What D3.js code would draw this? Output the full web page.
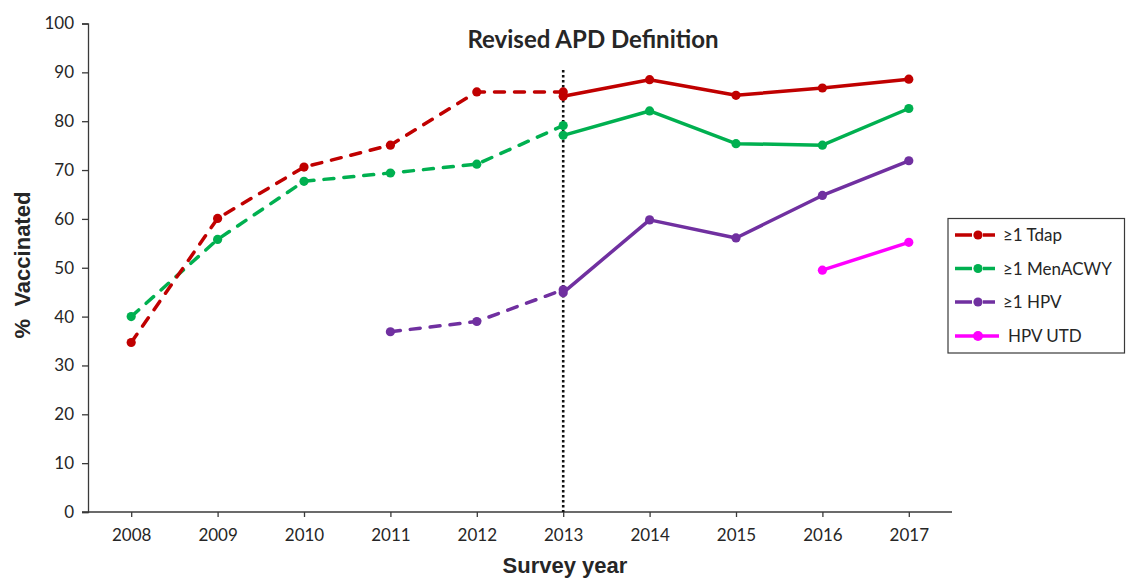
<!DOCTYPE html>
<html><head><meta charset="utf-8">
<script src="https://cdn.jsdelivr.net/npm/d3@7"></script>
<style>
html,body{margin:0;padding:0;background:#fff;}
svg{display:block;}
</style></head>
<body>
<svg id="chart" width="1126" height="578"></svg>
<script>
const years = [2008, 2009, 2010, 2011, 2012, 2013, 2014, 2015, 2016, 2017];
const yTicks = [0, 10, 20, 30, 40, 50, 60, 70, 80, 90, 100];

const tdapPreYears = [2008, 2009, 2010, 2011, 2012, 2013];
const tdapPre = [34.7, 60.1, 70.6, 75.1, 86.0, 86.0];
const tdapPostYears = [2013, 2014, 2015, 2016, 2017];
const tdapPost = [85.1, 88.5, 85.3, 86.8, 88.6];

const menPreYears = [2008, 2009, 2010, 2011, 2012, 2013];
const menPre = [40.0, 55.8, 67.7, 69.4, 71.2, 79.1];
const menPostYears = [2013, 2014, 2015, 2016, 2017];
const menPost = [77.1, 82.1, 75.4, 75.1, 82.6];

const hpvPreYears = [2011, 2012, 2013];
const hpvPre = [36.9, 39.0, 45.5];
const hpvPostYears = [2013, 2014, 2015, 2016, 2017];
const hpvPost = [44.9, 59.8, 56.1, 64.8, 71.9];

const utdYears = [2016, 2017];
const utd = [49.5, 55.2];

const legendLabels = ["≥1 Tdap", "≥1 MenACWY", "≥1 HPV", "HPV UTD"];
const colors = ["#C00000", "#00B050", "#7030A0", "#FF00FF"];
const revisedYear = 2013;

const svg = d3.select("#chart");
const plotL = 88, plotR = 952, plotT = 23.5, plotB = 512;

const x = d3.scalePoint().domain(years).range([plotL, plotR]).padding(0.5);
const y = d3.scaleLinear().domain([0, 100]).range([plotB, plotT]);

const axisColor = "#3a3a3a";
const tickFont = "Lato, 'Open Sans', sans-serif";

// Y axis
const yAxis = svg.append("g").attr("transform", `translate(${plotL},0)`)
  .call(d3.axisLeft(y).tickValues(yTicks).tickSize(6).tickPadding(8).tickFormat(d3.format("d")));
yAxis.select(".domain").attr("stroke", axisColor).attr("stroke-width", 1.3);
yAxis.selectAll(".tick line").attr("stroke", axisColor).attr("stroke-width", 1.3);
yAxis.selectAll(".tick text").attr("fill", "#262626").style("font-family", tickFont).style("font-size", "17px");

// X axis
const xAxis = svg.append("g").attr("transform", `translate(0,${plotB})`)
  .call(d3.axisBottom(x).tickSize(5).tickPadding(12).tickSizeOuter(0));
xAxis.select(".domain").attr("d", `M${plotL - 6},0H${plotR}`).attr("stroke", axisColor).attr("stroke-width", 1.3);
xAxis.selectAll(".tick line").attr("stroke", axisColor).attr("stroke-width", 1.3);
xAxis.selectAll(".tick text").attr("fill", "#262626").style("font-family", tickFont).style("font-size", "17px");

// Revised line
svg.append("line")
  .attr("x1", x(revisedYear)).attr("x2", x(revisedYear))
  .attr("y1", 70).attr("y2", plotB)
  .attr("stroke", "#111").attr("stroke-width", 2.6).attr("stroke-dasharray", "2.5,2.5");

svg.append("text").attr("x", 593).attr("y", 48).attr("text-anchor", "middle")
  .style("font-family", tickFont).style("font-weight", "bold").style("font-size", "24px")
  .attr("fill", "#262626").text("Revised APD Definition");

// Axis titles
svg.append("text").attr("x", 565).attr("y", 572.5).attr("text-anchor", "middle")
  .style("font-family", "'Liberation Sans', Arial, sans-serif").style("font-weight", "bold").style("font-size", "22px")
  .attr("fill", "#262626").text("Survey year");

svg.append("text").attr("transform", "translate(30,265) rotate(-90)").attr("text-anchor", "middle")
  .style("font-family", "'Liberation Sans', Arial, sans-serif").style("font-weight", "bold").style("font-size", "22px")
  .style("white-space", "pre").attr("xml:space", "preserve")
  .attr("fill", "#262626").text("%  Vaccinated");

// Series
const line = d3.line().x(d => x(d[0])).y(d => y(d[1]));
function series(yrs, vals, color, dashed) {
  const data = yrs.map((yr, i) => [yr, vals[i]]);
  const g = svg.append("g");
  g.append("path").datum(data).attr("d", line).attr("fill", "none")
    .attr("stroke", color).attr("stroke-width", 3.5)
    .attr("stroke-linecap", dashed ? "round" : "butt")
    .attr("stroke-linejoin", "round")
    .attr("stroke-dasharray", dashed ? "10,10" : null);
  g.selectAll("circle").data(data).join("circle")
    .attr("cx", d => x(d[0])).attr("cy", d => y(d[1])).attr("r", 4.6).attr("fill", color);
}
series(hpvPreYears, hpvPre, colors[2], true);
series(hpvPostYears, hpvPost, colors[2], false);
series(utdYears, utd, colors[3], false);
series(menPreYears, menPre, colors[1], true);
series(menPostYears, menPost, colors[1], false);
series(tdapPreYears, tdapPre, colors[0], true);
series(tdapPostYears, tdapPost, colors[0], false);

// Legend
const lg = svg.append("g");
lg.append("rect").attr("x", 948).attr("y", 218.5).attr("width", 176.5).attr("height", 134.5)
  .attr("fill", "#fff").attr("stroke", "#3a3a3a").attr("stroke-width", 1.2);
const rowsY = [235, 268.5, 302, 336];
legendLabels.forEach((lab, i) => {
  const dashed = i < 3;
  lg.append("line").attr("x1", 955).attr("x2", dashed ? 995 : 999)
    .attr("y1", rowsY[i]).attr("y2", rowsY[i])
    .attr("stroke", colors[i]).attr("stroke-width", 3.5)
    .attr("stroke-dasharray", dashed ? "17,11" : null);
  lg.append("circle").attr("cx", 978).attr("cy", rowsY[i]).attr("r", dashed ? 4.6 : 5).attr("fill", colors[i]);
  lg.append("text").attr("x", dashed ? 1003 : 1008).attr("y", rowsY[i] + 6)
    .style("font-family", tickFont).style("font-size", "17px").attr("fill", "#262626").text(lab);
});
</script>
</body></html>
